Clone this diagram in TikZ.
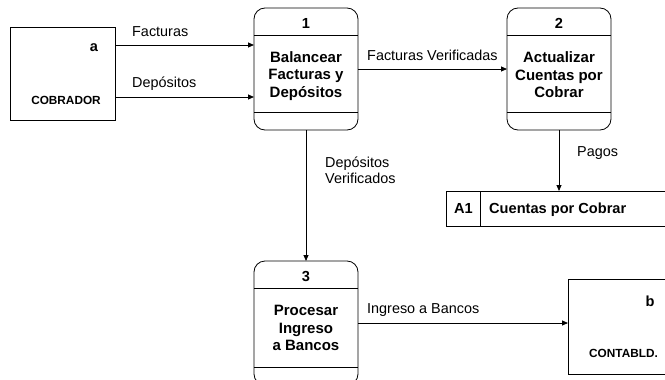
\documentclass[tikz,border=0pt]{standalone}
\usepackage{fontspec}
\setmainfont{Liberation Sans}
\usetikzlibrary{arrows.meta,calc}
\begin{document}
\begin{tikzpicture}[x=1pt,y=-1pt,
  box/.style={draw,line width=0.8pt,minimum width=105pt,minimum height=93pt,inner sep=0,outer sep=0},
  proc/.style={draw,line width=0.8pt,rounded corners=11pt,minimum width=104pt,minimum height=122pt,inner sep=0,outer sep=0},
  flow/.style={line width=0.8pt,-{Triangle[length=6pt,width=5pt]}},
  lbl/.style={font=\fontsize{14.4}{16}\selectfont,inner sep=0,anchor=base west},
  blbl/.style={font=\fontsize{14.6}{16}\selectfont\bfseries,inner sep=0,anchor=base west},
  ptxt/.style={font=\fontsize{15}{17.5}\selectfont\bfseries,align=center,inner sep=0},
  pnum/.style={font=\fontsize{14.6}{16}\selectfont\bfseries,inner sep=0,anchor=base},
  ename/.style={font=\fontsize{11.8}{13}\selectfont\bfseries,inner sep=0,anchor=base},
  divl/.style={line width=0.8pt}]
\useasboundingbox (0,0) rectangle (665,380);
\clip (0,0) rectangle (665,380);

% external entity a
\node[box] (a) at (62.5,73.5) {};
\node[pnum] (alab) at (94,52) {a};
\node[ename] (acob) at (66,104) {COBRADOR};

% process 1
\node[proc] (p1) at (306,69) {};
\draw[divl] ($(p1.north west)+(0,27)$) -- ($(p1.north east)+(0,27)$);
\draw[divl] ($(p1.south west)+(0,-18)$) -- ($(p1.south east)+(0,-18)$);
\node[pnum] (n1) at ($(p1.north)+(0,20)$) {1};
\node[ptxt] (t1) at ($(p1.north)+(0,68)$) {Balancear\\Facturas y\\Depósitos};

% process 2
\node[proc] (p2) at (559,69) {};
\draw[divl] ($(p2.north west)+(0,27)$) -- ($(p2.north east)+(0,27)$);
\draw[divl] ($(p2.south west)+(0,-18)$) -- ($(p2.south east)+(0,-18)$);
\node[pnum] (n2) at ($(p2.north)+(0,20)$) {2};
\node[ptxt] (t2) at ($(p2.north)+(0,67)$) {Actualizar\\Cuentas por\\Cobrar};

% process 3
\node[proc,minimum height=124pt] (p3) at (306,323) {};
\draw[divl] ($(p3.north west)+(0,27)$) -- ($(p3.north east)+(0,27)$);
\draw[divl] ($(p3.south west)+(0,-18)$) -- ($(p3.south east)+(0,-18)$);
\node[pnum] (n3) at ($(p3.north)+(0,20)$) {3};
\node[ptxt] (t3) at ($(p3.north)+(0,67)$) {Procesar\\Ingreso\\a Bancos};

% data store A1
\node[inner sep=0,outer sep=0,minimum width=254pt,minimum height=35pt] (st) at (573,208.5) {};
\draw[divl] (st.north east) -- (st.north west) -- (st.south west) -- (st.south east);
\draw[divl] ($(st.north west)+(34,0)$) -- ($(st.south west)+(34,0)$);
\node[pnum] (sa1) at (463.5,213) {A1};
\node[blbl] (sname) at (489,213) {Cuentas por Cobrar};

% external entity b
\node[box,minimum width=132pt,minimum height=95pt] (b) at (634,326.5) {};
\node[pnum] (blab) at (650,306) {b};
\node[ename] (bcon) at (623.5,357) {CONTABLD.};

% flows
\coordinate (f1) at ($(a.north east)+(0,18)$);
\coordinate (f2) at ($(a.north east)+(0,70)$);
\draw[flow] (f1) -- (f1 -| p1.west);
\draw[flow] (f2) -- (f2 -| p1.west);
\draw[flow] (p1.east) -- (p2.west);
\draw[flow] (p2.south) -- (p2.south |- st.north);
\draw[flow] (p1.south) -- (p3.north);
\draw[flow] (p3.east) -- (p3.east -| b.west);

% flow labels
\node[lbl] (l1) at (132,36) {Facturas};
\node[lbl] (l2) at (132,87) {Depósitos};
\node[lbl] (l3) at (367,60) {Facturas Verificadas};
\node[lbl] (l4) at (577,156) {Pagos};
\node[lbl] (l5) at (325,167) {Depósitos};
\node[lbl] (l6) at (325,183) {Verificados};
\node[lbl] (l7) at (367,313) {Ingreso a Bancos};
\end{tikzpicture}
\end{document}
